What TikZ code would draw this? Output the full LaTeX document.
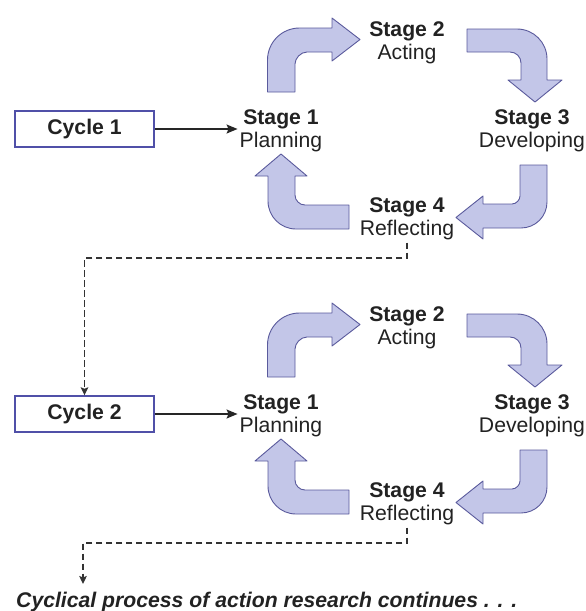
\documentclass[tikz,border=0pt]{standalone}
\usepackage{fontspec}
\setmainfont{Liberation Sans}
\usetikzlibrary{arrows.meta}
\definecolor{arrfill}{HTML}{C3C6E8}
\definecolor{arrline}{HTML}{5A5A9C}
\definecolor{boxline}{HTML}{5050A8}
\definecolor{txt}{HTML}{222222}
\begin{document}
\begin{tikzpicture}[x=1pt,y=-1pt,
  stagetext/.style={font=\fontsize{21.2}{23.5}\selectfont, align=center, text=txt, inner sep=2pt},
  cyclebox/.style={draw=boxline, line width=1.4pt, fill=white, minimum width=139pt, minimum height=36pt,
     inner sep=0pt, font=\fontsize{21.2}{23.5}\selectfont\bfseries, text=txt},
  bentarrow/.style={fill=arrfill, draw=arrline, line width=0.9pt, line join=round},
  flowline/.style={draw=black!85, line width=1.3pt, -{Stealth[length=11pt,width=9pt,inset=2pt]}},
  dashline/.style={draw=black!80, line width=1.5pt, dash pattern=on 6.5pt off 3.5pt,
     -{Stealth[length=8pt,width=7.5pt,inset=1.5pt]}}]
\useasboundingbox (0,0) rectangle (586,611);
\foreach \c/\off in {1/0,2/285}{
\begin{scope}[yshift=-\off pt]
  % bent arrows
  \filldraw[bentarrow] (267.5,92) -- (267.5,60) .. controls (267.5,42.3) and (281.8,28) .. (299.5,28)
     -- (332,28) -- (332,18) -- (360,39.5) -- (332,61) -- (332,52) -- (307,52)
     .. controls (300.4,52) and (295,58.6) .. (295,64) -- (295,92) -- cycle;
  \filldraw[bentarrow] (467,29) -- (517,29) .. controls (533.6,29) and (547,42.4) .. (547,59)
     -- (547,80) -- (562,80) -- (535,102) -- (508,80) -- (521,80) -- (521,63)
     .. controls (521,56.9) and (516.1,52) .. (510,52) -- (467,52) -- cycle;
  \filldraw[bentarrow] (520,165) -- (547,165) -- (547,202) .. controls (547,216.4) and (535.4,228) .. (521,228)
     -- (483,228) -- (483,239) -- (456,217.5) -- (483,196) -- (483,204) -- (512,204)
     .. controls (516.4,204) and (520,199.6) .. (520,196) -- cycle;
  \filldraw[bentarrow] (349,205) -- (349,229) -- (296,229) .. controls (280.5,229) and (268,216.5) .. (268,201)
     -- (268,176) -- (255,176) -- (281,154) -- (307,176) -- (295,176) -- (295,195)
     .. controls (295,200.5) and (299.5,205) .. (305,205) -- cycle;
  % stage labels
  \node[stagetext] (s1-\c) at (281,131) {\textbf{Stage 1}\\Planning};
  \node[stagetext] (s2-\c) at (407,43) {\textbf{Stage 2}\\Acting};
  \node[stagetext] (s3-\c) at (532,131) {\textbf{Stage 3}\\Developing};
  \node[stagetext] (s4-\c) at (407,219) {\textbf{Stage 4}\\Reflecting};
  % cycle box
  \node[cyclebox] (c\c) at (84.5,129) {Cycle \c};
  \draw[flowline] (c\c.east) -- (c\c.east -| s1-\c.west);
\end{scope}
}
\node[font=\fontsize{21.2}{23.5}\selectfont\bfseries\itshape, text=txt, anchor=base west, inner sep=0pt]
  (cont) at (16,607) {Cyclical process of action research continues . . .};
\coordinate (k1) at (84.5,258);
\draw[dashline] (s4-1.south) |- (k1) -- (c2.north);
\coordinate (k2) at (83,543);
\coordinate (k3) at (83,584);
\draw[dashline] (s4-2.south) |- (k2) -- (k3);
\end{tikzpicture}
\end{document}
